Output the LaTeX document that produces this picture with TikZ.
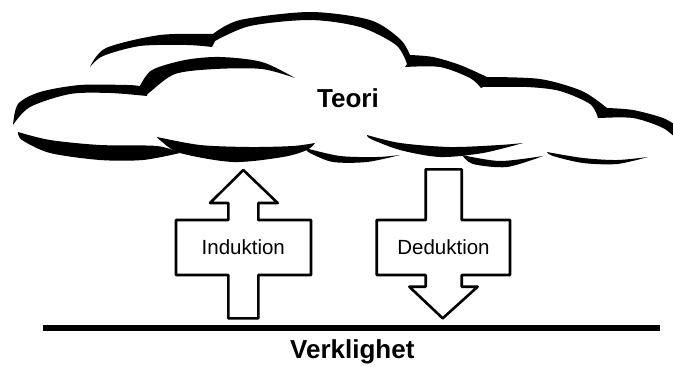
\documentclass[tikz,border=0pt]{standalone}
\usepackage{fontspec}
\setmainfont{Liberation Sans}
\usetikzlibrary{positioning}

\tikzset{
  cloudink/.style={fill=black},
  blockarrow/.style={draw=black,line width=2.6pt,line join=round,fill=white},
  ground/.style={line width=5.5pt},
  arrowlabel/.style={font=\fontsize{20.5}{24}\selectfont,anchor=base},
  bigtext/.style={font=\fontsize{26}{30}\selectfont\bfseries,anchor=base}
}

\begin{document}
\begin{tikzpicture}[x=1pt,y=-1pt]

  \useasboundingbox (0,0) rectangle (673,367);
  \clip (0,0) rectangle (673,367);

  % cloud: upper rim
  \fill[cloudink] plot[smooth] coordinates {(90,67) (106,48) (160,35) (213,34)}
    -- plot[smooth] coordinates {(213,34) (240,20) (310,12) (370,20) (400,39) (410,55)}
    -- plot[smooth] coordinates {(410,55) (433,57) (460,65) (487,77)}
    -- plot[smooth] coordinates {(487,77) (540,79) (582,91) (607,108)}
    -- plot[smooth] coordinates {(607,108) (633,110) (663,118) (680,128)}
    -- (680,142)
    -- plot[smooth] coordinates {(680,142) (663,128) (633,118) (600,118)}
    -- plot[smooth] coordinates {(598,118) (590,104) (560,91) (527,87) (483,87)}
    -- plot[smooth] coordinates {(481,88) (470,78) (440,67) (405,67)}
    -- plot[smooth] coordinates {(407,64) (396,45) (360,27) (310,20) (250,26) (215,41)}
    -- plot[smooth] coordinates {(212,47) (187,45) (140,46) (103,56) (90,67)}
    -- cycle;

  % cloud: front bumps
  \fill[cloudink] plot[smooth] coordinates {(13,125) (18,104) (40,92) (80,85) (127,85) (140,86)}
    -- plot[smooth] coordinates {(140,86) (152,70) (185,60) (220,57) (262,62) (295,78)}
    -- plot[smooth] coordinates {(295,78) (262,69) (215,69) (175,74) (150,92) (147,95)}
    -- plot[smooth] coordinates {(147,96) (110,93) (70,94) (30,107) (13,125)}
    -- cycle;

  % cloud: lower rims
  \fill[cloudink] plot[smooth] coordinates {(18,132) (50,140) (100,145) (157,146) (180,153)}
    -- plot[smooth] coordinates {(180,153) (143,160) (100,160) (50,153) (22,140) (18,132)} -- cycle;
  \fill[cloudink] plot[smooth] coordinates {(157,137) (200,145) (250,147) (293,146) (315,143)}
    -- plot[smooth] coordinates {(315,143) (307,150) (283,157) (233,162) (180,153) (161,141) (157,137)} -- cycle;
  \fill[cloudink] plot[smooth] coordinates {(305,148) (340,156) (377,157) (400,155)}
    -- plot[smooth] coordinates {(400,155) (367,162) (333,162) (310,153) (305,148)} -- cycle;
  \fill[cloudink] plot[smooth] coordinates {(367,135) (400,143) (450,147) (500,145) (523,143)}
    -- plot[smooth] coordinates {(523,143) (483,153) (440,157) (400,150) (371,139) (367,135)} -- cycle;
  \fill[cloudink] plot[smooth] coordinates {(462,155) (500,161) (543,156)}
    -- plot[smooth] coordinates {(543,156) (507,167) (473,164) (462,155)} -- cycle;
  \fill[cloudink] plot[smooth] coordinates {(547,152) (583,158) (617,160) (648,157)}
    -- plot[smooth] coordinates {(648,157) (617,164) (583,163) (553,156) (547,152)} -- cycle;

  \node[bigtext] (teori) at (348,107.3) {Teori};

  % block arrows
  \draw[blockarrow] (243.3,170) -- (277.7,203) -- (258.3,203) -- (258.3,220) -- (311,220)
    -- (311,275) -- (258.3,275) -- (258.3,318.3) -- (228.3,318.3) -- (228.3,275)
    -- (176,275) -- (176,220) -- (228.3,220) -- (228.3,203) -- (210,203) -- cycle;
  \draw[blockarrow] (425.7,169.3) -- (461.7,169.3) -- (461.7,220) -- (510,220) -- (510,275)
    -- (461.7,275) -- (461.7,286.7) -- (477.7,286.7) -- (442.7,318.3) -- (409.3,286.7)
    -- (425.7,286.7) -- (425.7,275) -- (376.7,275) -- (376.7,220) -- (425.7,220) -- cycle;

  \node[arrowlabel] (ind) at (243.3,254.3) {Induktion};
  \node[arrowlabel] (ded) at (443.5,254.3) {Deduktion};

  % ground
  \coordinate (gl) at (43,328);
  \coordinate (gr) at (660,328);
  \draw[ground] (gl) -- (gr);

  \node[bigtext] (verk) at (352.3,358.3) {Verklighet};

\end{tikzpicture}
\end{document}
